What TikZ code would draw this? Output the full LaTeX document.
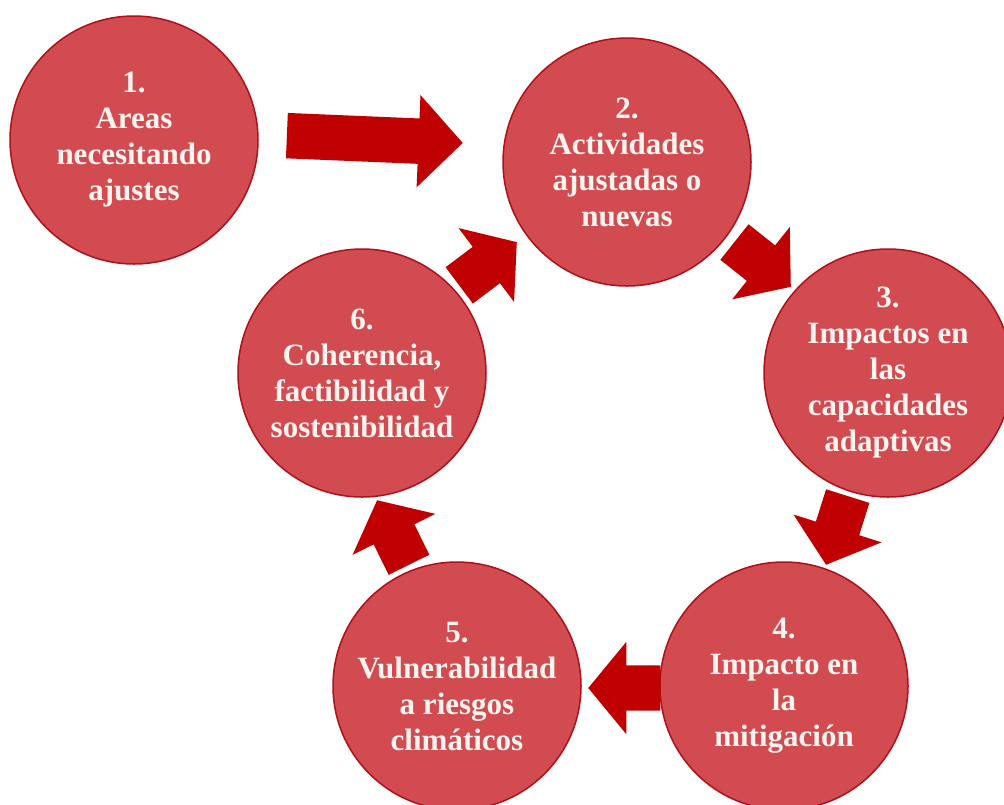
\documentclass[tikz,border=0pt]{standalone}
\usepackage{fontspec}
\setmainfont{Liberation Serif}
\usetikzlibrary{shapes.arrows}
\definecolor{circfill}{RGB}{209,75,80}
\definecolor{circedge}{RGB}{176,16,26}
\definecolor{arrowred}{RGB}{192,0,0}
\definecolor{txtcol}{RGB}{250,243,238}
\begin{document}
\begin{tikzpicture}[x=1pt,y=-1pt,
  stage/.style={circle, fill=circfill, draw=circedge, line width=1.5pt,
    minimum size=248pt, inner sep=0pt, align=center, text=txtcol,
    font=\bfseries\fontsize{31}{36}\selectfont},
  blockarrow/.style={single arrow, fill=arrowred, draw=none,
    inner xsep=0pt, inner ysep=22.5pt, single arrow head extend=23.5pt,
    single arrow tip angle=101, anchor=tip, minimum height=72pt}
]
\useasboundingbox (0,0) rectangle (1004,804);
\clip (0,0) rectangle (1004,804);
\fill[white] (0,0) rectangle (1004,804);

\node[stage] (s1) at (134,140) {1.\\Areas\\necesitando\\ajustes};
\node[stage] (s2) at (627,162) {2.\\Actividades\\ajustadas o\\nuevas};
\node[stage] (s3) at (888,373) {3.\\Impactos en\\las\\capacidades\\adaptivas};
\node[stage] (s4) at (784,686) {4.\\Impacto en\\la\\mitigación};
\node[stage] (s5) at (457,686) {5.\\Vulnerabilidad\\a riesgos\\climáticos};
\node[stage] (s6) at (362,373) {6.\\Coherencia,\\factibilidad y\\sostenibilidad};

\node[blockarrow, minimum height=176pt, single arrow tip angle=92.5, rotate=-2.4] (a12) at (463,143) {};
\node[blockarrow, rotate=-38.5] (a23) at (791,287) {};
\node[blockarrow, rotate=-107.5] (a34) at (826,565) {};
\node[blockarrow, rotate=180] (a45) at (588,688) {};
\node[blockarrow, rotate=116.3] (a56) at (377,500) {};
\node[blockarrow, rotate=36.9] (a62) at (517,242) {};
\end{tikzpicture}
\end{document}
